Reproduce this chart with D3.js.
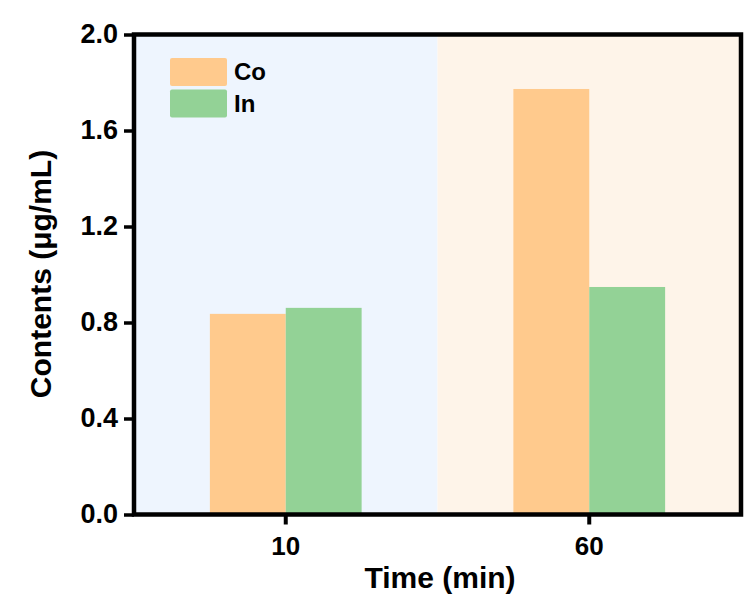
<!DOCTYPE html>
<html>
<head>
<meta charset="utf-8">
<script src="https://cdn.jsdelivr.net/npm/d3@7"></script>
<style>
  html, body { margin: 0; padding: 0; background: #ffffff; }
  svg { display: block; }
  text { font-family: "Liberation Sans", Arial, sans-serif; font-weight: bold; fill: #000; }
</style>
</head>
<body>
<svg id="chart" width="747" height="601"></svg>
<script>
// Sampling times (min) and measured contents (µg/mL)
const categories = ["10", "60"];
const seriesNames = ["Co", "In"];
const coValues = [0.836, 1.773];
const inValues = [0.861, 0.948];
const yTicks = [0.0, 0.4, 0.8, 1.2, 1.6, 2.0];

const seriesColors = { Co: "#FFCA8D", In: "#93D296" };
const bandColors = ["#EEF5FE", "#FEF4E9"];

const svg = d3.select("#chart");
const margin = { left: 134, right: 6, top: 34.5, bottom: 86.5 };
const W = 747, H = 601;
const x0 = margin.left, x1 = W - margin.right;
const yTop = margin.top, yBot = H - margin.bottom;

const x = d3.scaleBand().domain(categories).range([x0, x1]).padding(0);
const xs = d3.scaleBand().domain(seriesNames).range([0, x.bandwidth() / 2]).padding(0);
const y = d3.scaleLinear().domain([0, 2.0]).range([yBot, yTop]);

// Shaded background per time point
svg.append("g").selectAll("rect").data(categories).join("rect")
  .attr("x", d => x(d)).attr("y", yTop)
  .attr("width", x.bandwidth()).attr("height", yBot - yTop)
  .attr("fill", (d, i) => bandColors[i]);

// Grouped bars
const rows = categories.map((c, i) => ({ cat: c, Co: coValues[i], In: inValues[i] }));
svg.append("g").selectAll("g").data(rows).join("g")
  .attr("transform", d => `translate(${x(d.cat) + x.bandwidth() / 4},0)`)
  .selectAll("rect").data(d => seriesNames.map(s => ({ s, v: d[s] }))).join("rect")
  .attr("x", d => xs(d.s)).attr("width", xs.bandwidth())
  .attr("y", d => y(d.v)).attr("height", d => y(0) - y(d.v))
  .attr("fill", d => seriesColors[d.s]);

// Axes
const yAxis = d3.axisLeft(y).tickValues(yTicks).tickFormat(d3.format(".1f")).tickSizeOuter(0).tickSize(10).tickPadding(6);
const gy = svg.append("g").attr("transform", `translate(${x0},0)`).call(yAxis);
gy.select(".domain").remove();
gy.selectAll(".tick line").attr("stroke", "#000").attr("stroke-width", 3.5);
gy.selectAll(".tick text").attr("font-size", 27).attr("dy", "0.3em")
  .style("font-family", "'Liberation Sans', Arial, sans-serif").style("font-weight", "bold");

const xAxis = d3.axisBottom(x).tickSizeOuter(0).tickSize(10).tickPadding(12);
const gx = svg.append("g").attr("transform", `translate(0,${yBot})`).call(xAxis);
gx.select(".domain").remove();
gx.selectAll(".tick line").attr("stroke", "#000").attr("stroke-width", 4);
gx.selectAll(".tick text").attr("font-size", 26)
  .style("font-family", "'Liberation Sans', Arial, sans-serif").style("font-weight", "bold");

// Frame
svg.append("rect")
  .attr("x", x0).attr("y", yTop).attr("width", x1 - x0).attr("height", yBot - yTop)
  .attr("fill", "none").attr("stroke", "#000").attr("stroke-width", 4.5);

// Axis titles
svg.append("text").attr("x", 440).attr("y", 588)
  .attr("text-anchor", "middle").attr("font-size", 30).text("Time (min)");
svg.append("text")
  .attr("transform", `translate(51,274) rotate(-90)`)
  .attr("text-anchor", "middle").attr("font-size", 30).text("Contents (μg/mL)");

// Legend
const legend = svg.append("g").attr("transform", "translate(170,58)");
seriesNames.forEach((s, i) => {
  const g = legend.append("g").attr("transform", `translate(0,${i * 31.5})`);
  g.append("rect").attr("width", 57).attr("height", 28).attr("rx", 2).attr("fill", seriesColors[s]);
  g.append("text").attr("x", 64).attr("y", 22).attr("font-size", 24).text(s);
});
</script>
</body>
</html>
